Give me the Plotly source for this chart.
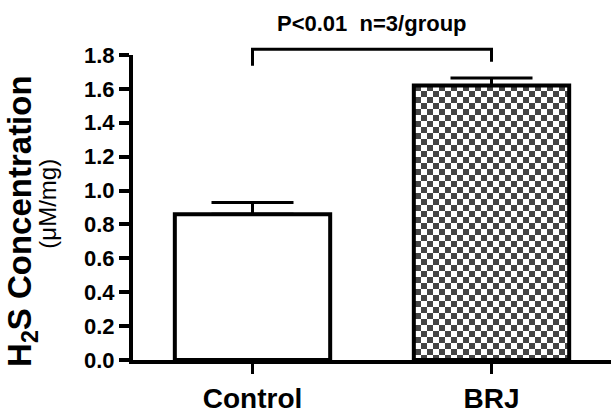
import plotly.graph_objects as go

categories = ["Control", "BRJ"]
values = [0.86, 1.62]
errors = [0.07, 0.045]
y_ticks = [0.0, 0.2, 0.4, 0.6, 0.8, 1.0, 1.2, 1.4, 1.6, 1.8]
stat_text = "P<0.01 \u00a0n=3/group"

FONT = "Liberation Sans"
checker = "M0,0H6V6H0Z M6,6H12V12H6Z"

fig = go.Figure()
fig.add_trace(go.Bar(
    x=categories,
    y=values,
    width=0.65,
    marker=dict(
        color=["white", "white"],
        line=dict(color="black", width=4),
        pattern=dict(
            path=["", checker],
            fgcolor="black",
            bgcolor="white",
            fgopacity=1,
            size=12,
        ),
    ),
    error_y=dict(
        type="data",
        symmetric=False,
        array=errors,
        arrayminus=[0, 0],
        color="black",
        thickness=3,
        width=41,
    ),
    showlegend=False,
))

fig.update_layout(
    width=611,
    height=414,
    autosize=False,
    margin=dict(l=133, r=0, t=55, b=41),
    paper_bgcolor="white",
    plot_bgcolor="white",
    font=dict(family=FONT, color="black"),
)

fig.update_xaxes(
    range=[-0.5, 1.5],
    showline=True, linecolor="black", linewidth=4,
    ticks="outside", ticklen=10, tickwidth=3, tickcolor="black",
    tickfont=dict(family=FONT, size=28, weight="bold", color="black"),
    showgrid=False, zeroline=False,
)
fig.update_yaxes(
    range=[0, 1.8],
    tickvals=y_ticks,
    ticktext=[f"{v:.1f}" for v in y_ticks],
    showline=True, linecolor="black", linewidth=4,
    ticks="outside", ticklen=10, tickwidth=4, tickcolor="black",
    tickfont=dict(family=FONT, size=22, weight="bold", color="black"),
    showgrid=False, zeroline=False,
)

# y-axis titles
fig.add_annotation(
    text="H<sub>2</sub>S Concentration", textangle=-90,
    xref="paper", yref="paper", x=(22 - 133) / 478, y=(373 - 228) / 318,
    xanchor="center", yanchor="middle", showarrow=False,
    font=dict(family=FONT, size=33, weight="bold", color="black"),
)
fig.add_annotation(
    text="(\u03bcM/mg)", textangle=-90,
    xref="paper", yref="paper", x=(48 - 133) / 478, y=(373 - 210) / 318,
    xanchor="center", yanchor="middle", showarrow=False,
    font=dict(family=FONT, size=24, color="black"),
)

# significance bracket
x0, x1 = 0.25, 0.75
fig.add_shape(
    type="path",
    xref="paper", yref="paper",
    path=f"M{x0},0.965 L{x0},1.019 L{x1},1.019 L{x1},0.978",
    line=dict(color="black", width=3),
)
fig.add_annotation(
    text=stat_text,
    xref="paper", yref="paper", x=0.5, y=(373 - 22.5) / 318,
    xanchor="center", yanchor="middle", showarrow=False,
    font=dict(family=FONT, size=22, weight="bold", color="black"),
)

fig.write_html(
    "out.html",
    config={"displayModeBar": False},
    post_script="document.body.style.margin='0';",
)
